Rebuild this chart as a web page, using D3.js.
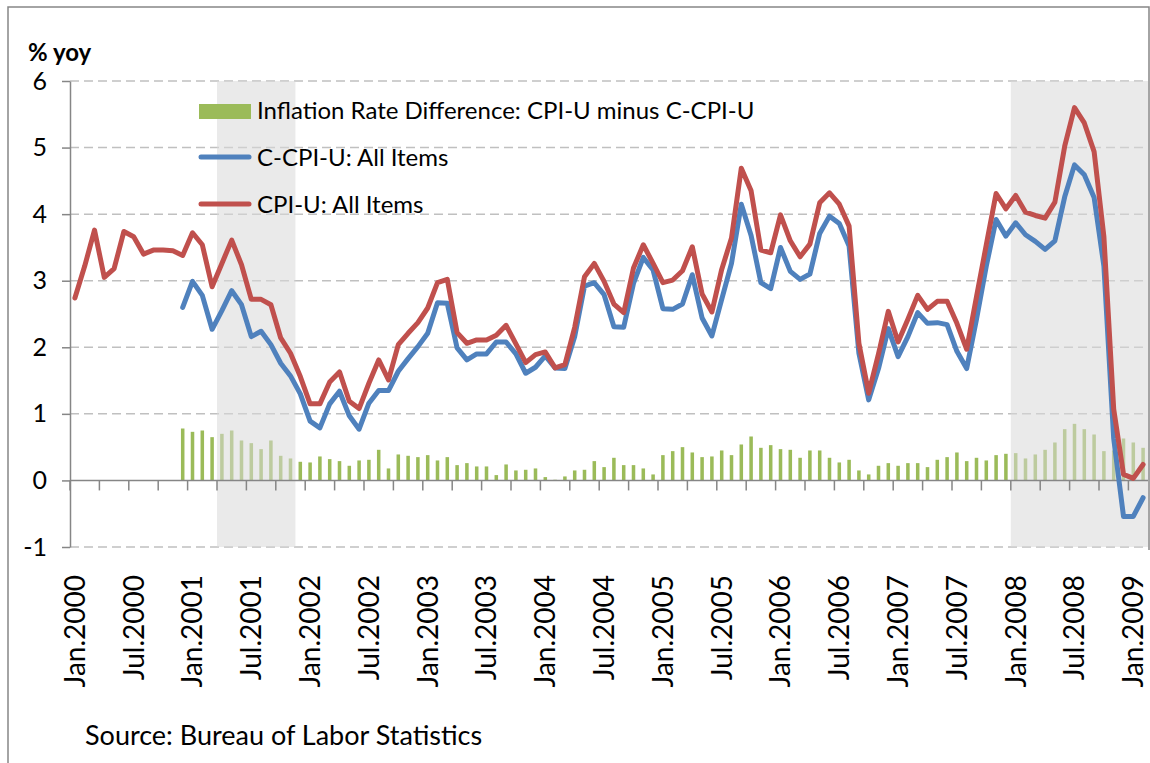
<!DOCTYPE html>
<html>
<head>
<meta charset="utf-8">
<script src="https://cdn.jsdelivr.net/npm/d3@7"></script>
<style>
  body { margin: 0; background: #fff; }
  svg { display: block; font-family: Lato, "Open Sans", sans-serif; }
</style>
</head>
<body>
<svg id="chart" width="1150" height="763"></svg>
<script>
// monthly categories Jan.2000 .. Feb.2009
var months = d3.timeMonth.range(new Date(2000, 0, 1), new Date(2009, 2, 1));

var tickLabels = ["Jan.2000","Jul.2000","Jan.2001","Jul.2001","Jan.2002","Jul.2002","Jan.2003","Jul.2003",
  "Jan.2004","Jul.2004","Jan.2005","Jul.2005","Jan.2006","Jul.2006","Jan.2007","Jul.2007","Jan.2008","Jul.2008","Jan.2009"];

// CPI-U: All Items, % yoy, Jan.2000 .. Feb.2009
var cpiU = [
  2.74, 3.22, 3.76, 3.05, 3.18, 3.74, 3.66, 3.40, 3.46, 3.46, 3.45, 3.38,
  3.72, 3.54, 2.91, 3.26, 3.61, 3.24, 2.72, 2.72, 2.64, 2.14, 1.91, 1.56,
  1.15, 1.15, 1.48, 1.63, 1.19, 1.08, 1.46, 1.81, 1.51, 2.04, 2.21, 2.37,
  2.59, 2.97, 3.02, 2.22, 2.06, 2.11, 2.11, 2.18, 2.33, 2.05, 1.77, 1.89,
  1.93, 1.69, 1.74, 2.30, 3.06, 3.26, 2.99, 2.65, 2.52, 3.19, 3.54, 3.26,
  2.97, 3.01, 3.15, 3.51, 2.80, 2.53, 3.17, 3.64, 4.69, 4.35, 3.46, 3.42,
  3.99, 3.60, 3.36, 3.55, 4.17, 4.32, 4.15, 3.82, 2.06, 1.31, 1.90, 2.54,
  2.08, 2.42, 2.78, 2.57, 2.69, 2.69, 2.36, 1.97, 2.76, 3.54, 4.31, 4.08,
  4.28, 4.03, 3.98, 3.94, 4.18, 5.02, 5.60, 5.37, 4.94, 3.66, 1.07, 0.09,
  0.03, 0.24
];

// C-CPI-U: All Items, % yoy, Dec.2000 .. Feb.2009
var cStart = new Date(2000, 11, 1);
var cCpiU = [
  2.60,
  2.99, 2.78, 2.27, 2.55, 2.85, 2.64, 2.16, 2.24, 2.04, 1.76, 1.57, 1.30,
  0.89, 0.79, 1.15, 1.34, 0.97, 0.77, 1.16, 1.35, 1.35, 1.64, 1.83, 2.01,
  2.21, 2.67, 2.66, 1.99, 1.81, 1.90, 1.90, 2.08, 2.08, 1.90, 1.61, 1.70,
  1.87, 1.69, 1.68, 2.16, 2.92, 2.97, 2.79, 2.31, 2.30, 2.96, 3.35, 3.16,
  2.58, 2.57, 2.65, 3.09, 2.44, 2.17, 2.72, 3.26, 4.15, 3.68, 2.97, 2.88,
  3.50, 3.14, 3.02, 3.10, 3.71, 3.97, 3.86, 3.52, 1.91, 1.21, 1.68, 2.28,
  1.86, 2.16, 2.52, 2.36, 2.37, 2.34, 1.94, 1.68, 2.42, 3.22, 3.92, 3.67,
  3.87, 3.69, 3.59, 3.47, 3.60, 4.26, 4.74, 4.59, 4.25, 3.22, 0.63, -0.54,
  -0.54, -0.26
];

// Inflation Rate Difference: CPI-U minus C-CPI-U, Dec.2000 .. Feb.2009
var diffVals = [
  0.78,
  0.73, 0.75, 0.65, 0.70, 0.75, 0.60, 0.56, 0.47, 0.60, 0.37, 0.33, 0.28,
  0.27, 0.36, 0.32, 0.29, 0.22, 0.30, 0.31, 0.46, 0.18, 0.39, 0.37, 0.35,
  0.38, 0.30, 0.35, 0.23, 0.26, 0.21, 0.21, 0.08, 0.24, 0.15, 0.16, 0.18,
  0.05, 0.01, 0.06, 0.15, 0.16, 0.29, 0.20, 0.34, 0.23, 0.23, 0.18, 0.09,
  0.38, 0.44, 0.50, 0.42, 0.35, 0.36, 0.45, 0.38, 0.54, 0.66, 0.49, 0.53,
  0.47, 0.46, 0.34, 0.45, 0.45, 0.34, 0.27, 0.31, 0.15, 0.09, 0.22, 0.26,
  0.22, 0.26, 0.26, 0.20, 0.31, 0.35, 0.42, 0.29, 0.34, 0.30, 0.38, 0.40,
  0.41, 0.33, 0.39, 0.46, 0.57, 0.77, 0.85, 0.77, 0.69, 0.44, 0.45, 0.63,
  0.57, 0.49
];

// shaded periods (first and last month)
var recessions = [
  [new Date(2001, 3, 1), new Date(2001, 10, 1)],
  [new Date(2008, 0, 1), new Date(2009, 1, 1)]
];

var yTicks = [-1, 0, 1, 2, 3, 4, 5, 6];

var svg = d3.select("#chart");
var plotL = 70, plotR = 1148, plotT = 81, plotB = 547;

var x = d3.scaleBand().domain(months.map(Number)).range([plotL, plotR]);
var xBar = d3.scaleBand().domain(months.map(Number)).range([plotL, plotR]).paddingInner(0.64).paddingOuter(0.32);
var y = d3.scaleLinear().domain([-1, 6]).range([plotB, plotT]);
var cx = function(d) { return x(+d) + x.bandwidth() / 2; };

var cOffset = months.findIndex(function(m) { return +m === +cStart; });
var cData = cCpiU.map(function(v, i) { return { m: months[cOffset + i], v: v }; });
var dData = diffVals.map(function(v, i) { return { m: months[cOffset + i], v: v }; });
var rData = cpiU.map(function(v, i) { return { m: months[i], v: v }; });

// outer frame
svg.append("path")
  .attr("d", "M8,763V7H1149V550")
  .attr("fill", "none").attr("stroke", "#868686").attr("stroke-width", 1.5);

// gridlines
svg.append("g").selectAll("line")
  .data(yTicks.filter(function(d) { return d !== 0; }))
  .enter().append("line")
  .attr("x1", plotL).attr("x2", plotR)
  .attr("y1", function(d) { return y(d); }).attr("y2", function(d) { return y(d); })
  .attr("stroke", "#c0c0c0").attr("stroke-width", 1.5).attr("stroke-dasharray", "9,5");

// difference bars
svg.append("g").selectAll("rect")
  .data(dData)
  .enter().append("rect")
  .attr("x", function(d) { return xBar(+d.m); })
  .attr("width", xBar.bandwidth())
  .attr("y", function(d) { return y(Math.max(0, d.v)); })
  .attr("height", function(d) { return Math.abs(y(d.v) - y(0)); })
  .attr("fill", "#9bbb59");

// shaded periods
svg.append("g").selectAll("rect")
  .data(recessions)
  .enter().append("rect")
  .attr("x", function(d) { return x(+d[0]); })
  .attr("width", function(d) { return x(+d[1]) + x.bandwidth() - x(+d[0]); })
  .attr("y", plotT).attr("height", plotB - plotT)
  .attr("fill", "#d9d9d9").attr("fill-opacity", 0.55);

// y axis
var yAxis = d3.axisLeft(y).tickValues(yTicks).tickSize(8).tickSizeOuter(0).tickPadding(15)
  .tickFormat(function(d) { return String(d); });
var gy = svg.append("g").attr("transform", "translate(" + plotL + ",0)").call(yAxis);
gy.select(".domain").attr("stroke", "#868686").attr("stroke-width", 1.5);
gy.selectAll(".tick line").attr("stroke", "#868686").attr("stroke-width", 1.5);
gy.selectAll(".tick text").attr("font-family", "Lato, sans-serif").attr("font-size", 25).attr("fill", "#000");

// x axis line and ticks every quarter
var gx = svg.append("g");
gx.append("line").attr("x1", plotL).attr("x2", plotR).attr("y1", y(0)).attr("y2", y(0))
  .attr("stroke", "#868686").attr("stroke-width", 1.5);
gx.selectAll(".qtick")
  .data(months.filter(function(m, i) { return i % 3 === 0; }))
  .enter().append("line").attr("class", "qtick")
  .attr("x1", function(d) { return x(+d); }).attr("x2", function(d) { return x(+d); })
  .attr("y1", y(0)).attr("y2", y(0) + 10)
  .attr("stroke", "#868686").attr("stroke-width", 1.5);

// x labels
svg.append("g").selectAll("text")
  .data(tickLabels)
  .enter().append("text")
  .attr("transform", function(d, i) { return "translate(" + cx(months[i * 6]) + ",575) rotate(-90)"; })
  .attr("text-anchor", "end").attr("dy", "0.35em")
  .attr("font-size", 28).attr("fill", "#000")
  .text(function(d) { return d; });

// lines
var line = d3.line()
  .x(function(d) { return cx(d.m); })
  .y(function(d) { return y(d.v); });

svg.append("path").datum(cData).attr("d", line)
  .attr("fill", "none").attr("stroke", "#4f81bd").attr("stroke-width", 5)
  .attr("stroke-linejoin", "round").attr("stroke-linecap", "round");
svg.append("path").datum(rData).attr("d", line)
  .attr("fill", "none").attr("stroke", "#c0504d").attr("stroke-width", 5)
  .attr("stroke-linejoin", "round").attr("stroke-linecap", "round");

// legend
var legend = svg.append("g");
legend.append("rect").attr("x", 199).attr("y", 104).attr("width", 52).attr("height", 15).attr("fill", "#9bbb59");
legend.append("line").attr("x1", 201).attr("x2", 249).attr("y1", 157).attr("y2", 157)
  .attr("stroke", "#4f81bd").attr("stroke-width", 5).attr("stroke-linecap", "round");
legend.append("line").attr("x1", 201).attr("x2", 249).attr("y1", 204).attr("y2", 204)
  .attr("stroke", "#c0504d").attr("stroke-width", 5).attr("stroke-linecap", "round");
legend.selectAll("text")
  .data(["Inflation Rate Difference: CPI-U minus C-CPI-U", "C-CPI-U: All Items", "CPI-U: All Items"])
  .enter().append("text")
  .attr("x", 257).attr("y", function(d, i) { return 119 + i * 47; })
  .attr("font-size", 24).attr("fill", "#000")
  .text(function(d) { return d; });

// axis title and source
svg.append("text").attr("x", 28).attr("y", 61)
  .attr("font-size", 24).attr("font-weight", "bold").text("% yoy");
svg.append("text").attr("x", 85).attr("y", 745)
  .attr("font-size", 27).text("Source: Bureau of Labor Statistics");
</script>
</body>
</html>
